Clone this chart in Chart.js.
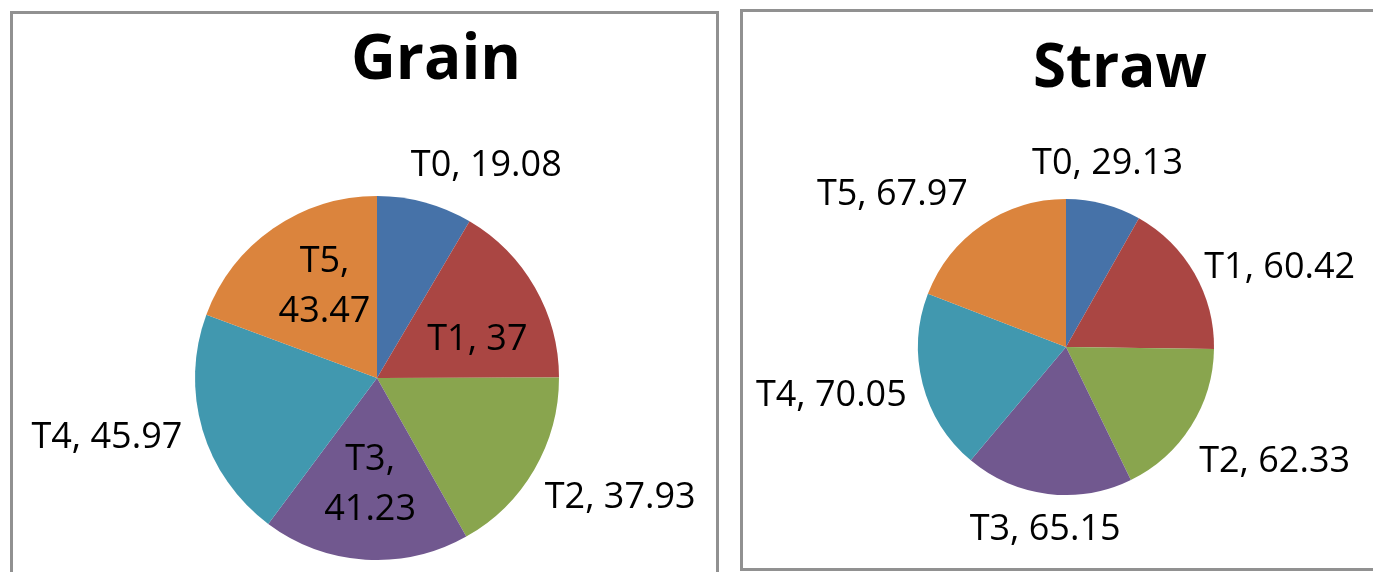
<!DOCTYPE html>
<html>
<head>
<meta charset="utf-8">
<script src="https://cdn.jsdelivr.net/npm/chart.js@4.4.1/dist/chart.umd.min.js"></script>
<style>
  html, body { margin: 0; padding: 0; background: #fff; width: 1373px; height: 572px; overflow: hidden; position: relative; }
  .box { position: absolute; box-sizing: border-box; border: 3px solid #919191; }
  #boxGrain { left: 10px; top: 11px; width: 709px; height: 620px; }
  #boxStraw { left: 740px; top: 9px; width: 700px; height: 562px; }
  canvas { position: absolute; top: 0; }
  #grainChart { left: 0; }
  #strawChart { left: 728px; }
</style>
</head>
<body>
<div class="box" id="boxGrain"></div>
<div class="box" id="boxStraw"></div>
<canvas id="grainChart" width="728" height="572"></canvas>
<canvas id="strawChart" width="645" height="572"></canvas>
<script>
var categories = ['T0', 'T1', 'T2', 'T3', 'T4', 'T5'];
var grainValues = [19.08, 37, 37.93, 41.23, 45.97, 43.47];
var strawValues = [29.13, 60.42, 62.33, 65.15, 70.05, 67.97];

var sliceColors = ['#4672a8', '#aa4643', '#89a54e', '#71588f', '#4198af', '#db843d'];

// label placement relative to each slice: angle shift (deg) from the slice middle, distance in radii
var grainPlace = [
    { dA: 12, k: 1.31 }, { dA: 9, k: 0.59 }, { dA: -4, k: 1.49 },
    { dA: 0, k: 0.59, wrap: true }, { dA: 4, k: 1.52 }, { dA: 5, k: 0.58, wrap: true }
];
var strawPlace = [
    { dA: -2, k: 1.27 }, { dA: 9.5, k: 1.54 }, { dA: -3.5, k: 1.61 },
    { dA: -0.5, k: 1.24 }, { dA: 2.6, k: 1.62 }, { dA: -14.3, k: 1.56 }
];

function makeLabels(place, title, titleFont, titleX, titleY) {
    return {
        id: 'sliceLabels',
        afterDatasetsDraw: function (chart) {
            var ctx = chart.ctx;
            var meta = chart.getDatasetMeta(0);
            var values = chart.data.datasets[0].data;
            ctx.save();
            ctx.fillStyle = '#000';
            ctx.textAlign = 'center';
            ctx.textBaseline = 'middle';
            ctx.font = '36px "Open Sans"';
            meta.data.forEach(function (arc, i) {
                var p = place[i];
                var a = (arc.startAngle + arc.endAngle) / 2 + p.dA * Math.PI / 180;
                var d = arc.outerRadius * p.k;
                var x = arc.x + Math.cos(a) * d;
                var y = arc.y + Math.sin(a) * d;
                var name = chart.data.labels[i];
                var lines = p.wrap ? [name + ',', String(values[i])] : [name + ', ' + values[i]];
                lines.forEach(function (t, j) {
                    ctx.fillText(t, x, y + (j - (lines.length - 1) / 2) * 50);
                });
            });
            ctx.font = titleFont;
            ctx.textBaseline = 'alphabetic';
            ctx.fillText(title, titleX, titleY);
            ctx.restore();
        }
    };
}

function pieChart(id, values, padding, labelPlugin) {
    var ctx = document.getElementById(id).getContext('2d');
    return new Chart(ctx, {
        type: 'pie',
        data: {
            labels: categories,
            datasets: [{
                data: values,
                backgroundColor: sliceColors,
                borderWidth: 0
            }]
        },
        options: {
            responsive: false,
            animation: false,
            layout: { padding: padding },
            plugins: {
                legend: { display: false },
                tooltip: { enabled: false },
                title: { display: false }
            }
        },
        plugins: [labelPlugin]
    });
}

pieChart('grainChart', grainValues,
    { left: 195, right: 169, top: 196, bottom: 12 },
    makeLabels(grainPlace, 'Grain', 'bold 62px "Open Sans"', 436, 79));

pieChart('strawChart', strawValues,
    { left: 190, right: 159, top: 199, bottom: 77 },
    makeLabels(strawPlace, 'Straw', 'bold 60px "Open Sans"', 392, 87));
</script>
</body>
</html>
